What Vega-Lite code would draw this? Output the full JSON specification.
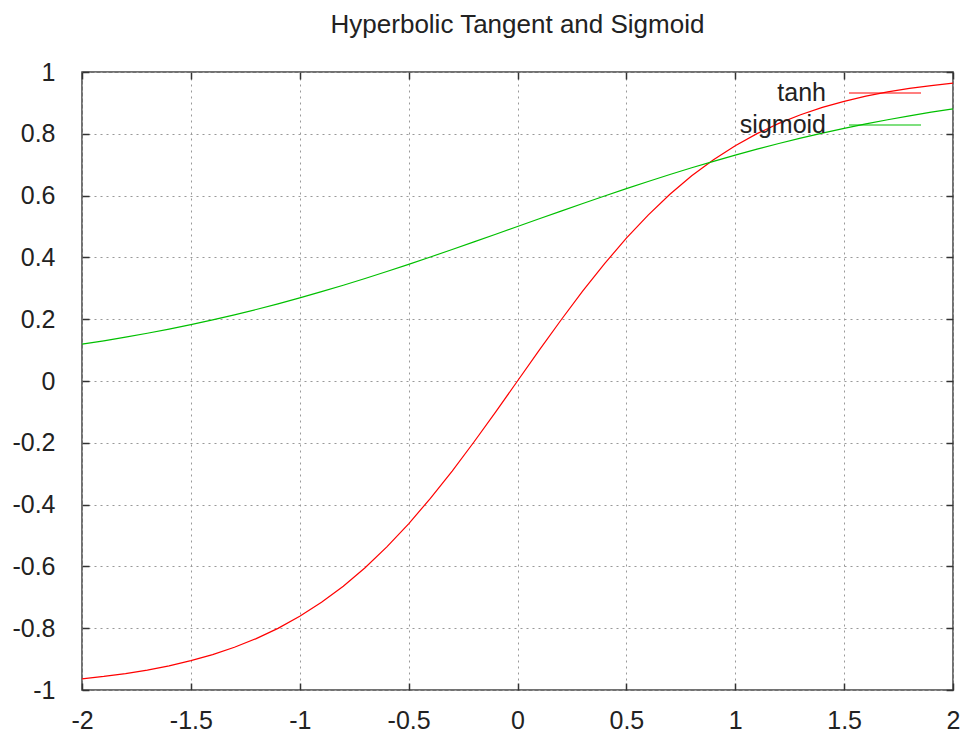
{
  "$schema": "https://vega.github.io/schema/vega-lite/v6.json",
  "width": 871,
  "height": 618,
  "autosize": "none",
  "padding": {"left": 82, "top": 72, "right": 10, "bottom": 44},
  "background": "white",
  "config": {
    "view": {"stroke": "#444", "strokeWidth": 1.5},
    "font": "Liberation Sans"
  },
  "title": {
    "text": "Hyperbolic Tangent and Sigmoid",
    "font": "Liberation Sans",
    "fontSize": 26,
    "fontWeight": "normal",
    "color": "#222",
    "anchor": "middle",
    "frame": "group",
    "offset": 22
  },
  "data": {
    "values": [
      {"x": -2.0, "tanh": -0.9640, "sigmoid": 0.1192},
      {"x": -1.9, "tanh": -0.9562, "sigmoid": 0.1301},
      {"x": -1.8, "tanh": -0.9468, "sigmoid": 0.1419},
      {"x": -1.7, "tanh": -0.9354, "sigmoid": 0.1545},
      {"x": -1.6, "tanh": -0.9217, "sigmoid": 0.1680},
      {"x": -1.5, "tanh": -0.9051, "sigmoid": 0.1824},
      {"x": -1.4, "tanh": -0.8854, "sigmoid": 0.1978},
      {"x": -1.3, "tanh": -0.8617, "sigmoid": 0.2142},
      {"x": -1.2, "tanh": -0.8337, "sigmoid": 0.2315},
      {"x": -1.1, "tanh": -0.8005, "sigmoid": 0.2497},
      {"x": -1.0, "tanh": -0.7616, "sigmoid": 0.2689},
      {"x": -0.9, "tanh": -0.7163, "sigmoid": 0.2891},
      {"x": -0.8, "tanh": -0.6640, "sigmoid": 0.3100},
      {"x": -0.7, "tanh": -0.6044, "sigmoid": 0.3318},
      {"x": -0.6, "tanh": -0.5370, "sigmoid": 0.3543},
      {"x": -0.5, "tanh": -0.4621, "sigmoid": 0.3775},
      {"x": -0.4, "tanh": -0.3799, "sigmoid": 0.4013},
      {"x": -0.3, "tanh": -0.2913, "sigmoid": 0.4256},
      {"x": -0.2, "tanh": -0.1974, "sigmoid": 0.4502},
      {"x": -0.1, "tanh": -0.0997, "sigmoid": 0.4750},
      {"x": 0.0, "tanh": 0.0, "sigmoid": 0.5},
      {"x": 0.1, "tanh": 0.0997, "sigmoid": 0.5250},
      {"x": 0.2, "tanh": 0.1974, "sigmoid": 0.5498},
      {"x": 0.3, "tanh": 0.2913, "sigmoid": 0.5744},
      {"x": 0.4, "tanh": 0.3799, "sigmoid": 0.5987},
      {"x": 0.5, "tanh": 0.4621, "sigmoid": 0.6225},
      {"x": 0.6, "tanh": 0.5370, "sigmoid": 0.6457},
      {"x": 0.7, "tanh": 0.6044, "sigmoid": 0.6682},
      {"x": 0.8, "tanh": 0.6640, "sigmoid": 0.6900},
      {"x": 0.9, "tanh": 0.7163, "sigmoid": 0.7109},
      {"x": 1.0, "tanh": 0.7616, "sigmoid": 0.7311},
      {"x": 1.1, "tanh": 0.8005, "sigmoid": 0.7503},
      {"x": 1.2, "tanh": 0.8337, "sigmoid": 0.7685},
      {"x": 1.3, "tanh": 0.8617, "sigmoid": 0.7858},
      {"x": 1.4, "tanh": 0.8854, "sigmoid": 0.8022},
      {"x": 1.5, "tanh": 0.9051, "sigmoid": 0.8176},
      {"x": 1.6, "tanh": 0.9217, "sigmoid": 0.8320},
      {"x": 1.7, "tanh": 0.9354, "sigmoid": 0.8455},
      {"x": 1.8, "tanh": 0.9468, "sigmoid": 0.8581},
      {"x": 1.9, "tanh": 0.9562, "sigmoid": 0.8699},
      {"x": 2.0, "tanh": 0.9640, "sigmoid": 0.8808}
    ]
  },
  "transform": [{"fold": ["tanh", "sigmoid"], "as": ["series", "value"]}],
  "layer": [
    {
      "mark": {"type": "line", "strokeWidth": 1.2},
      "encoding": {
        "x": {
          "field": "x",
          "type": "quantitative",
          "scale": {"domain": [-2, 2], "nice": false, "zero": false},
          "axis": {
            "orient": "bottom",
            "title": null,
            "values": [-2, -1.5, -1, -0.5, 0, 0.5, 1, 1.5, 2],
            "labelExpr": "'' + datum.value",
            "domain": false,
            "tickSize": -7,
            "tickColor": "#333",
            "tickWidth": 1.5,
            "labelFontSize": 25,
            "labelFont": "Liberation Sans",
            "labelColor": "#222",
            "labelPadding": 25,
            "labelFlush": false,
            "grid": true,
            "gridDash": [2, 4],
            "gridColor": "#999",
            "gridWidth": 1,
            "gridOpacity": 1
          }
        },
        "y": {
          "field": "value",
          "type": "quantitative",
          "scale": {"domain": [-1, 1], "nice": false, "zero": false},
          "axis": {
            "orient": "left",
            "title": null,
            "values": [-1, -0.8, -0.6, -0.4, -0.2, 0, 0.2, 0.4, 0.6, 0.8, 1],
            "labelExpr": "'' + datum.value",
            "domain": false,
            "tickSize": -7,
            "tickColor": "#333",
            "tickWidth": 1.5,
            "labelFontSize": 25,
            "labelFont": "Liberation Sans",
            "labelColor": "#222",
            "labelPadding": 34,
            "labelFlush": false,
            "grid": true,
            "gridDash": [2, 4],
            "gridColor": "#999",
            "gridWidth": 1,
            "gridOpacity": 1
          }
        },
        "color": {
          "field": "series",
          "type": "nominal",
          "scale": {"domain": ["tanh", "sigmoid"], "range": ["#ff0000", "#00c000"]},
          "legend": {
            "title": null,
            "orient": "none",
            "legendX": 790,
            "legendY": 8,
            "padding": 0,
            "symbolType": "M-3,0H3",
            "symbolSize": 576,
            "symbolStrokeWidth": 1.2,
            "symbolFillColor": "transparent",
            "labelFontSize": 25,
            "labelFont": "Liberation Sans",
            "labelColor": "#222",
            "labelAlign": "right",
            "labelOffset": -72,
            "rowPadding": 6,
            "labelLimit": 300
          }
        }
      }
    },
    {
      "mark": {"type": "line", "opacity": 0},
      "encoding": {
        "x": {
          "field": "x",
          "type": "quantitative",
          "axis": {
            "orient": "top",
            "title": null,
            "values": [-2, -1.5, -1, -0.5, 0, 0.5, 1, 1.5, 2],
            "labels": false,
            "domain": false,
            "grid": false,
            "tickSize": -7,
            "tickColor": "#333",
            "tickWidth": 1.5
          }
        },
        "y": {
          "field": "value",
          "type": "quantitative",
          "axis": {
            "orient": "right",
            "title": null,
            "values": [-1, -0.8, -0.6, -0.4, -0.2, 0, 0.2, 0.4, 0.6, 0.8, 1],
            "labels": false,
            "domain": false,
            "grid": false,
            "tickSize": -7,
            "tickColor": "#333",
            "tickWidth": 1.5
          }
        },
        "detail": {"field": "series", "type": "nominal"}
      }
    }
  ],
  "resolve": {"axis": {"x": "independent", "y": "independent"}}
}
